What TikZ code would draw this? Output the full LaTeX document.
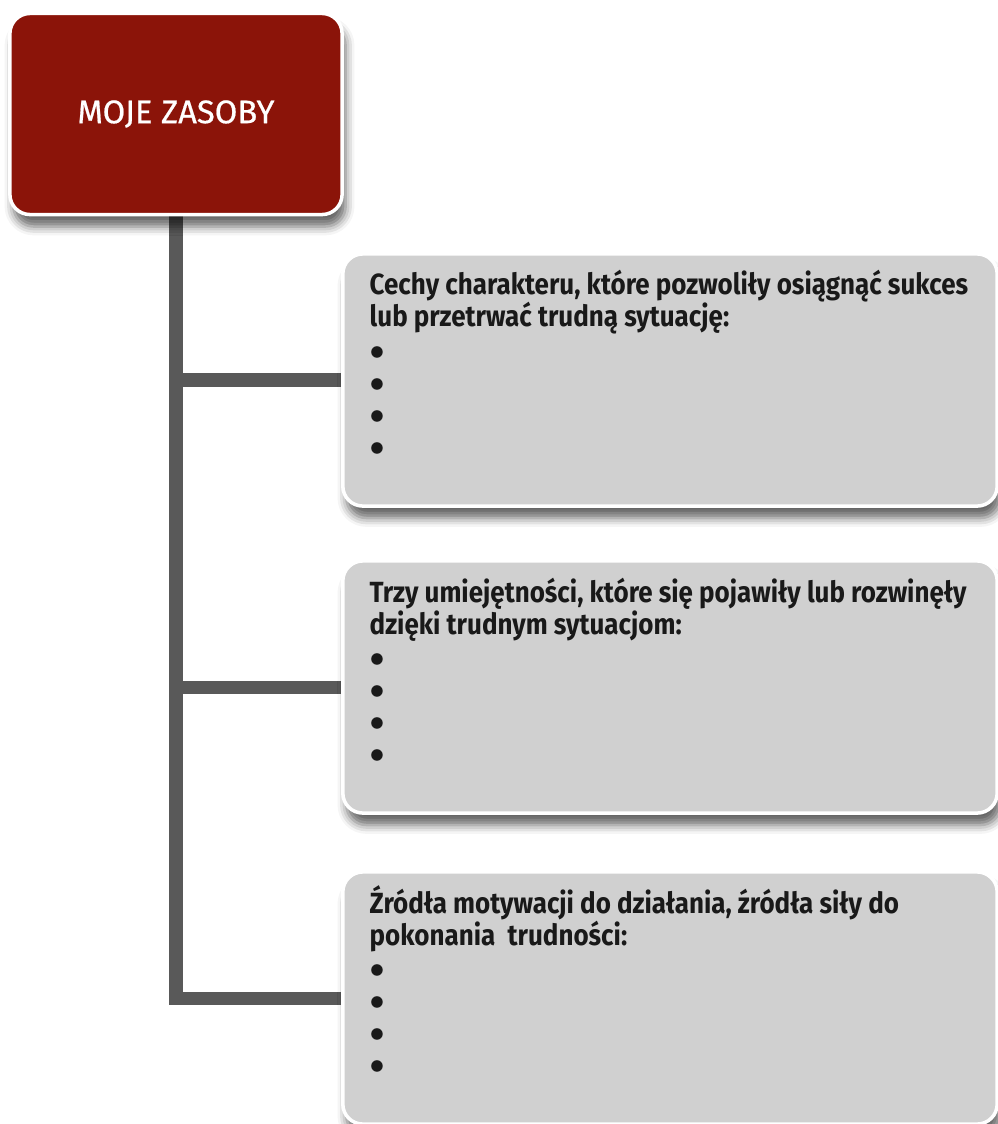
\documentclass[tikz,border=0pt]{standalone}
\usepackage{fontspec}
\setmainfont{Fira Sans}
\newfontfamily\condfont{Fira Sans}[FakeStretch=0.89]
\newfontfamily\titlefont{Fira Sans}[FakeBold=0.6]
\usetikzlibrary{shadows.blur,backgrounds}
\definecolor{zasobyred}{HTML}{8B1409}
\definecolor{cardgray}{HTML}{D0D0D0}
\definecolor{stemgray}{HTML}{595959}
\tikzset{
  card/.style={draw=white, line width=1pt, rounded corners=5.7pt, inner sep=0pt,
    blur shadow={shadow xshift=1pt, shadow yshift=-3.4pt, shadow blur radius=2.5pt, shadow opacity=60}},
  titlebox/.style={card, fill=zasobyred, minimum width=3.32cm, minimum height=2.01cm,
    text=white, font=\titlefont\fontsize{9.3}{11}\selectfont},
  listbox/.style={card, fill=cardgray, minimum width=6.54cm, minimum height=2.52cm},
  listtext/.style={anchor=base west, inner sep=0pt, align=left, text=black!90,
    font=\condfont\bfseries\fontsize{8.3}{9.1}\selectfont},
  branch/.style={stemgray, line width=3.7pt, line join=miter}
}
\begin{document}
\begin{tikzpicture}[x=0.01cm, y=-0.01cm]
  \useasboundingbox (0,0) rectangle (998,1124);
  \node[titlebox] (title) at (176,114) {MOJE ZASOBY};

  % three cards, text set from its last line (base anchor)
  \foreach \n/\y/\txt in {
      1/380/{Cechy charakteru, które pozwoliły osiągnąć sukces\\lub przetrwać trudną sytuację:},
      2/687/{Trzy umiejętności, które się pojawiły lub rozwinęły\\dzięki trudnym sytuacjom:},
      3/998/{Źródła motywacji do działania, źródła siły do\\pokonania\ \ trudności:}}
  {
    \node[listbox] (box\n) at (670,\y) {};
    \node[listtext] (text\n) at (369,\y+75) {\txt\\$\bullet$\\$\bullet$\\$\bullet$\\$\bullet$};
  }

  \begin{pgfonlayer}{background}
    \draw[branch] (title.south) |- (box3.west);
    \foreach \n in {1,2}
      \draw[branch] (title.south |- box\n.west) -- (box\n.west);
  \end{pgfonlayer}
\end{tikzpicture}
\end{document}
